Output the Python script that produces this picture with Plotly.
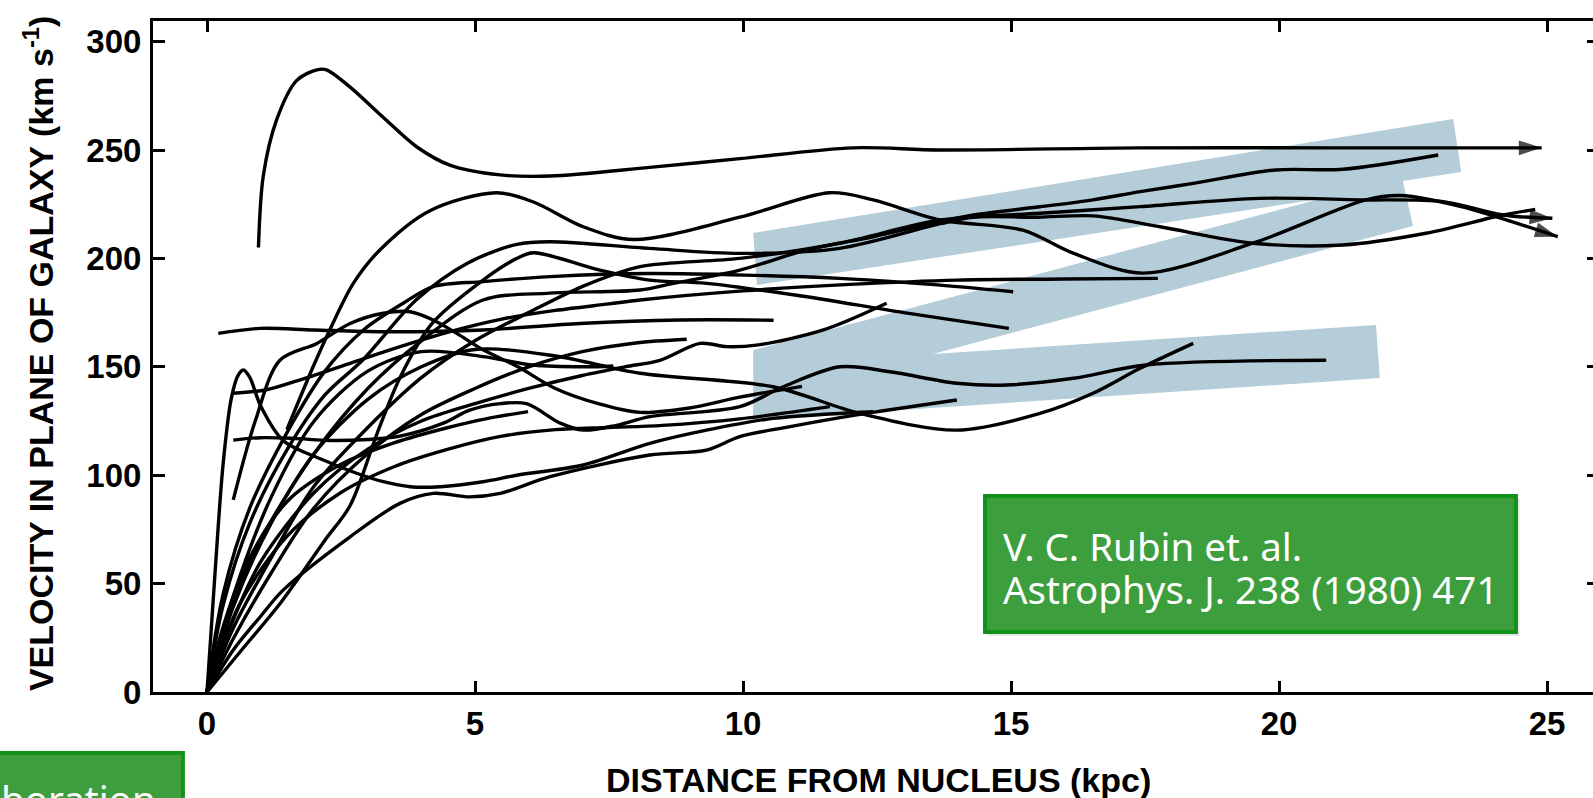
import plotly.graph_objects as go

# ---------------- data (kpc, km/s) ----------------
A_d = [0.96, 1.05, 1.3, 1.67, 2.05, 2.23, 2.67, 3.29, 3.91, 4.53, 5.47, 6.4, 8.26, 9.94, 12.05, 13.68, 17.4, 21.0, 24.9]
A_v = [205, 238, 264, 282, 287, 287, 279, 265, 251.5, 243, 238.5, 238, 242, 246, 251, 250, 251, 251, 251]

B_d = [1.49, 1.98, 2.29, 2.73, 3.23, 4.16, 5.4, 6.09, 7.02, 7.96, 9.94, 11.62, 12.43, 13.68, 15.22, 16.16, 17.46, 19.51, 21.62, 22.26, 23.38, 25.2]
B_v = [121, 150, 167, 188.5, 204, 222, 230.3, 226, 214.6, 208.7, 219, 230.3, 227, 217.7, 213, 202.4, 193.2, 207, 227, 229, 224, 210]

C_d = [0, 0.3, 0.8, 1.5, 2.2, 2.9, 3.91, 4.85, 5.78, 6.4, 8.26, 9.94, 11.8, 13.68, 14.3, 15.5, 16.53, 17.78, 19.51, 21.19, 22.74, 24.18, 24.78]
C_v = [0, 40, 78, 112, 137, 153, 181, 197.7, 206.5, 207.7, 204.6, 202.3, 204.6, 216, 219, 219, 219.6, 214.6, 207, 206.2, 211.6, 220, 222.6]

D_d = [0, 0.4, 1, 2, 3, 4, 5.15, 6.4, 8.08, 8.7, 9.94, 11.19, 12.43, 13.5, 14.3, 15.54, 16.53, 17.41, 18.4, 19.94, 21.19, 22.97]
D_v = [0, 35, 70, 110, 140, 162, 180.8, 184, 185.4, 188.5, 194.6, 203.9, 210, 216, 220, 223.8, 227, 230.8, 234.6, 240.8, 241.1, 247.7]

E_d = [0, 0.5, 1.2, 2, 3, 4, 5, 6, 7, 8.08, 9.94, 11.8, 13.68, 15.54, 17.41, 19.64, 21.5, 23.06, 24.18, 25.1]
E_v = [0, 30, 62, 95, 122, 145, 162, 175, 187, 196.2, 200, 207, 217.7, 220.8, 223.9, 227.7, 227, 226.2, 220, 218.5]

F_d = [0, 0.3, 0.8, 1.5, 2.2, 2.92, 3.66, 4.22, 5.15, 6.4, 8.26, 11.8, 13.5, 15.04]
F_v = [0, 45, 85, 120, 148, 167, 179.3, 187, 189.3, 191.6, 193, 190.8, 188, 184.6]

G_d = [0, 0.6, 1.4, 2.2, 2.67, 3.17, 3.6, 4.2, 5.15, 5.78, 6.09, 7.33, 8.26, 9.32, 11, 13, 14.96]
G_v = [0, 18, 42, 70, 86, 119, 145, 170, 190, 200, 202.6, 194.6, 190, 188.5, 183, 175, 167.7]

H_d = [0, 0.4, 1, 2, 3, 4, 5, 6, 7, 7.8, 8.45, 9.2, 9.7, 10.25, 11.5, 12.68]
H_v = [0, 28, 60, 92, 112, 125, 133, 140, 146, 150, 153, 160.8, 159.3, 160, 167, 179.3]

K_d = [0.21, 0.99, 2.0, 3.28, 5.15, 6.96, 8.82, 10.57]
K_v = [165.4, 167.7, 167, 166.2, 167, 170, 171.6, 171.5]

I_d = [0, 0.5, 1.2, 2, 3, 4, 5, 6.5, 8.08, 10.56, 12.18, 13.99, 15.54, 16.53, 17.41, 18.4]
I_v = [0, 40, 78, 110, 135, 150, 158, 155, 147, 140.8, 128.5, 120.8, 128.5, 137.8, 149.3, 160.8]

J_d = [0.49, 0.99, 1.61, 2.3, 3, 3.6, 4.41, 4.9, 5.47, 5.96, 6.59, 7.02, 7.64, 8.26, 9.94, 10.75, 11.81, 12.74, 13.99, 14.92, 16.16, 17.52, 20.88]
J_v = [116.2, 117.3, 117, 116, 116.5, 118, 124, 130, 133, 133, 124, 120.8, 123, 127, 131.6, 140.8, 150, 147.7, 142.4, 141.6, 144.7, 150.8, 153]

S_d = [0, 0.15, 0.3, 0.45, 0.58, 0.68, 0.8, 1.0, 1.42, 2.17, 2.79, 3.29, 3.79, 4.35, 5.15, 5.78, 7.02, 8.26, 9.32, 10.56, 12.43]
S_v = [0, 55, 105, 135, 146, 148.5, 145, 132, 116, 107, 100.9, 97, 94.7, 94.7, 97, 100, 104.7, 114.7, 120.8, 126.2, 129.3]

N_d = [0, 0.49, 0.99, 1.42, 2.67, 3.6, 4.22, 4.9, 5.47, 6.4, 8.26, 9.32, 9.94, 10.88, 12.12, 13.99]
N_v = [0, 19.4, 34.6, 47, 71.6, 87, 91.6, 90, 91.6, 99.3, 109.3, 111.6, 117.8, 122.4, 127.8, 134.7]

P_d = [0, 0.5, 1.2, 2, 3, 4, 5.15, 6.09, 7.02, 7.58]
P_v = [0, 45, 90, 125, 148, 157, 154.7, 150.8, 150, 150.4]

Q_d = [0.49, 0.9, 1.36, 2.05, 2.67, 3.29, 3.79, 4.22, 4.66, 5.16, 5.8, 6.5, 7.3, 8.08, 9.0, 9.94, 11.1]
Q_v = [88.6, 125, 153, 160.8, 170, 174.7, 175.4, 171.6, 165.4, 157.7, 150, 140, 133, 129, 131, 136, 141]

L_d = [0, 0.6, 1.5, 2.5, 3.5, 4.5, 5.5, 6.5, 7.5, 8.5, 9.94, 11.62]
L_v = [0, 40, 72, 92, 104, 112, 118, 121, 122, 123, 126, 131.6]

U_d = [0, 0.3, 0.8, 1.5, 2.5, 3.5, 4.5, 5.2, 5.99]
U_v = [0, 30, 62, 88, 105, 115, 122, 126, 129.3]

V_d = [0.49, 1.11, 1.74, 2.67, 3.4, 4.5, 5.5, 6.5, 7.5, 8.08, 10, 12, 14, 16, 17.74]
V_v = [137.8, 139.4, 144, 151.6, 157.7, 166, 172, 176, 179, 180.8, 185, 188, 190, 190.5, 190.8]

W_d = [0, 0.5, 1.2, 2, 3, 4, 5, 6, 7, 8, 8.95]
W_v = [0, 25, 55, 85, 110, 128, 140, 150, 157, 161, 162.7]

# (x, y, ends with an arrow)
curves = [
    (A_d, A_v, True), (B_d, B_v, True), (C_d, C_v, False), (D_d, D_v, False),
    (E_d, E_v, True), (F_d, F_v, False), (G_d, G_v, False), (H_d, H_v, False),
    (K_d, K_v, False), (I_d, I_v, False), (J_d, J_v, False), (S_d, S_v, False),
    (N_d, N_v, False), (P_d, P_v, False), (Q_d, Q_v, False), (L_d, L_v, False),
    (U_d, U_v, False), (V_d, V_v, False), (W_d, W_v, False),
]

x_ticks = [0, 5, 10, 15, 20, 25]
y_ticks = [0, 50, 100, 150, 200, 250, 300]

# highlight band outline (data units)
band_d = [10.19, 23.25, 23.40, 22.31, 22.50, 13.54, 21.81, 21.88, 10.19, 10.19, 20.76, 10.26]
band_v = [211.7, 264.3, 239.9, 235.7, 214.9, 155.9, 169.3, 144.8, 125.5, 157.7, 227.4, 187.7]

# ---------------- figure ----------------
fig = go.Figure()

for d, v, arrow in curves:
    fig.add_trace(go.Scatter(
        x=d, y=v, mode="lines",
        line=dict(color="black", width=3.4, shape="spline", smoothing=0.9),
        hoverinfo="skip", showlegend=False))
    if arrow:
        fig.add_trace(go.Scatter(
            x=d[-2:], y=v[-2:], mode="markers",
            marker=dict(symbol="arrow", size=[0, 24], angleref="previous",
                        color="black", line=dict(width=0)),
            hoverinfo="skip", showlegend=False))

# dummy trace so the right-hand tick axis is drawn
fig.add_trace(go.Scatter(x=[None], y=[None], yaxis="y2", showlegend=False, hoverinfo="skip"))

band_path = "M " + " L ".join(f"{a},{b}" for a, b in zip(band_d, band_v)) + " Z"

shapes = [
    dict(type="path", path=band_path, xref="x", yref="y",
         fillcolor="#b4cdd9", line=dict(width=0), layer="below"),
    # shadow + green box
    dict(type="rect", xref="paper", yref="paper", x0=0.5795, x1=0.9490, y0=0.0835, y1=0.2880,
         fillcolor="rgba(0,0,0,0.10)", line=dict(width=0), layer="above"),
    dict(type="rect", xref="paper", yref="paper", x0=0.5778, x1=0.9465, y0=0.0894, y1=0.2921,
         fillcolor="#3d9e3d", line=dict(color="#13921a", width=4), layer="above"),
    dict(type="rect", xref="paper", yref="paper", x0=-0.12, x1=0.0208, y0=-0.170, y1=-0.0909,
         fillcolor="#3d9e3d", line=dict(color="#13921a", width=4), layer="above"),
]

axis_font = dict(family="Liberation Sans, Arial, sans-serif", size=33, color="black", weight="bold")
title_font = dict(family="Liberation Sans, Arial, sans-serif", size=34, color="black", weight="bold")

annotations = [
    dict(text="DISTANCE FROM NUCLEUS (kpc)", xref="paper", yref="paper", x=0.504, y=-0.131,
         showarrow=False, xanchor="center", yanchor="middle", font=title_font),
    dict(text="VELOCITY IN PLANE OF GALAXY (km s<sup>-1</sup>)", xref="paper", yref="paper",
         x=-0.0799, y=0.505, textangle=-90, showarrow=False, xanchor="center", yanchor="middle",
         font=title_font),
    dict(text="V. C. Rubin et. al.", xref="paper", yref="paper", x=0.589, y=0.218,
         showarrow=False, xanchor="left", yanchor="middle",
         font=dict(family="Noto Sans", size=38.5, color="white")),
    dict(text="Astrophys. J. 238 (1980) 471", xref="paper", yref="paper", x=0.589, y=0.154,
         showarrow=False, xanchor="left", yanchor="middle",
         font=dict(family="Noto Sans", size=38.5, color="white")),
    dict(text="Collaboration", xref="paper", yref="paper", x=0.0035, y=-0.160,
         showarrow=False, xanchor="right", yanchor="middle",
         font=dict(family="Noto Sans", size=38.5, color="white")),
]

fig.update_layout(
    width=1593, height=798,
    margin=dict(l=153, r=0, t=21, b=106),
    paper_bgcolor="white", plot_bgcolor="white",
    showlegend=False,
    xaxis=dict(range=[-1.0075, 25.858], tickvals=x_ticks, ticktext=[str(t) for t in x_ticks],
               ticks="inside", ticklen=11, tickwidth=2.5, tickcolor="black",
               showline=True, linecolor="black", linewidth=3, mirror="ticks",
               showgrid=False, zeroline=False, tickfont=axis_font, ticklabelstandoff=0),
    yaxis=dict(range=[0, 309.5], tickvals=y_ticks, ticktext=[str(t) for t in y_ticks],
               ticks="inside", ticklen=12, tickwidth=3, tickcolor="black",
               showline=True, linecolor="black", linewidth=3,
               showgrid=False, zeroline=False, tickfont=axis_font, ticklabelstandoff=2),
    yaxis2=dict(range=[0, 309.5], overlaying="y", side="right", tickvals=y_ticks,
                ticks="inside", ticklen=6, tickwidth=3, tickcolor="black",
                showticklabels=False, showline=False, showgrid=False, zeroline=False),
    shapes=shapes,
    annotations=annotations,
)

fig.write_html("out.html")
